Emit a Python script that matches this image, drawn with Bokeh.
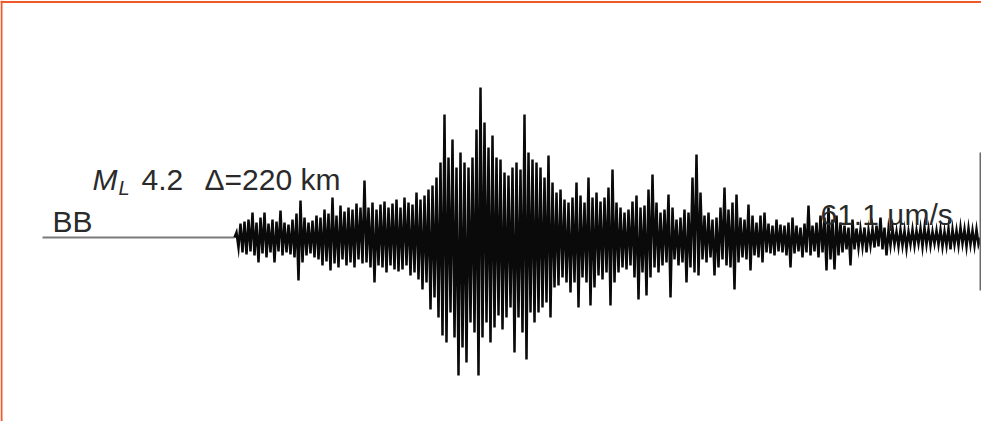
import numpy as np
from bokeh.plotting import figure
from bokeh.models import Range1d, Span, ColumnDataSource
from bokeh.core.properties import value
from bokeh.embed import file_html
from bokeh.resources import INLINE

# ---------------- data ----------------
station = "BB"
magnitude_label = "4.2"
distance_label = "\u0394=220 km"
scale_label = "61.1 \u00b5m/s"

pre_event_samples = 96          # quiet trace before the first arrival
# positive swings (odd samples) and negative swings (even samples), trace units
up_peaks = [
    5, 14, 16, 18, 25, 15, 20, 25, 14, 18, 16, 27, 15, 13, 18,
    24, 37, 20, 15, 17, 22, 20, 28, 24, 40, 22, 32, 26, 30, 28, 34, 30,
    57, 30, 35, 28, 33, 36, 30, 34, 38, 30, 40, 35, 33, 45, 38, 42, 48, 52,
    60, 75, 123, 80, 98, 70, 85, 75, 70, 80, 108, 150, 115, 90, 102, 80, 78, 65, 62, 70, 75, 68, 123, 85, 78, 75, 70,
    60, 82, 55, 45, 48, 38, 35, 40, 55, 42, 35, 60, 40, 45, 36, 40, 50, 68, 35, 30, 25, 28, 36, 42, 30, 32, 48, 63, 35, 25, 28,
    43, 30, 18, 20, 28, 25, 60, 83, 45, 22, 25, 18, 20, 30, 50, 28, 35, 43, 20, 18, 33, 22, 15, 22, 25, 14, 12, 18, 13, 12, 15, 20, 12, 10, 14, 32, 12, 15, 22,
    20, 30, 18, 22, 15, 12, 10, 18, 9, 8, 10, 7, 9, 12, 20, 10, 8, 9, 6, 8, 7, 6, 8, 7, 9, 10, 8, 6, 7, 8, 6, 9, 8, 7, 10, 8, 9, 7, 8,
]
down_troughs = [
    10, 15, 17, 14, 18, 25, 16, 20, 15, 25, 14, 18, 15, 17, 20,
    43, 25, 18, 16, 20, 22, 28, 24, 33, 26, 30, 22, 28, 25, 30, 22, 26,
    25, 30, 45, 28, 30, 35, 28, 32, 34, 32, 28, 38, 35, 42, 52, 45, 72, 60,
    80, 98, 105, 75, 100, 138, 110, 125, 85, 95, 138, 100, 85, 105, 90, 78, 92, 80, 70, 115, 80, 95, 122, 75, 85, 75, 70,
    65, 80, 50, 48, 40, 45, 55, 45, 70, 40, 45, 68, 50, 38, 42, 35, 68, 45, 35, 30, 32, 28, 40, 62, 35, 58, 40, 30, 35, 28, 25,
    60, 22, 28, 25, 45, 30, 35, 38, 22, 25, 20, 38, 30, 22, 28, 30, 52, 25, 20, 22, 33, 18, 20, 25, 15, 16, 18, 14, 15, 18, 30, 16, 14, 20, 15, 18, 14, 20, 15,
    33, 22, 32, 18, 15, 12, 28, 12, 10, 9, 15, 8, 10, 9, 12, 18, 8, 7, 9, 8, 11, 7, 8, 6, 9, 7, 8, 6, 7, 9, 8, 12, 7, 8, 6, 9, 7, 8, 7,
]
scale_bar_top = 85       # calibration bar extent (trace units)
scale_bar_bottom = -53

# ---------------- build series ----------------
n = min(len(up_peaks), len(down_troughs))
trace_t = [0]
trace_a = [0]
for k in range(n):
    trace_t += [2 * k + 1, 2 * k + 2]
    trace_a += [up_peaks[k], -down_troughs[k]]
end_t = 2 * n + 1
trace_t.append(end_t)
trace_a.append(0)

W, H = 981, 421
p = figure(width=W, height=H, output_backend="svg", toolbar_location=None,
           x_range=Range1d(-117, -117 + W / 2), y_range=Range1d(-184, -184 + H),
           min_border=0, outline_line_color=None)
p.axis.visible = False
p.grid.visible = False
p.background_fill_color = "white"
p.border_fill_color = "white"

# frame lines (left and top)
p.add_layout(Span(location=-116.5, dimension="height", line_color="#f05a2a", line_width=2))
p.add_layout(Span(location=235.5, dimension="width", line_color="#f05a2a", line_width=2))

# quiet pre-event trace
p.line([-pre_event_samples, 0], [0, 0], line_color="#7a7a7a", line_width=2)
# seismogram
p.line(trace_t, trace_a, line_color="#0a0a0a", line_width=2.5, line_join="miter")
# calibration bar
p.line([end_t, end_t], [scale_bar_bottom, scale_bar_top], line_color="#6a6a6a", line_width=2)

font = value("Liberation Sans")
tc = "#2a2a2a"
p.text(x=[(100 - 242) / 2], y=[245 - 187], text=["M"], text_font=font, text_font_size="30px",
       text_font_style="italic", text_color=tc, text_baseline="alphabetic", text_align="left")
p.text(x=[(126 - 242) / 2], y=[245 - 195], text=["L"], text_font=font, text_font_size="20px",
       text_font_style="italic", text_color=tc, text_baseline="alphabetic", text_align="left")
p.text(x=[(149 - 242) / 2], y=[245 - 187], text=[magnitude_label], text_font=font, text_font_size="30px",
       text_color=tc, text_baseline="alphabetic", text_align="left")
p.text(x=[(212 - 242) / 2], y=[245 - 187], text=[distance_label], text_font=font, text_font_size="30px",
       text_color=tc, text_baseline="alphabetic", text_align="left")
p.text(x=[(60 - 242) / 2], y=[245 - 229], text=[station], text_font=font, text_font_size="30px",
       text_color=tc, text_baseline="alphabetic", text_align="left")
p.text(x=[(828 - 242) / 2], y=[245 - 222], text=[scale_label], text_font=font, text_font_size="30px",
       text_color=tc, text_baseline="alphabetic", text_align="left")

open("out.html", "w").write(file_html(p, INLINE))
